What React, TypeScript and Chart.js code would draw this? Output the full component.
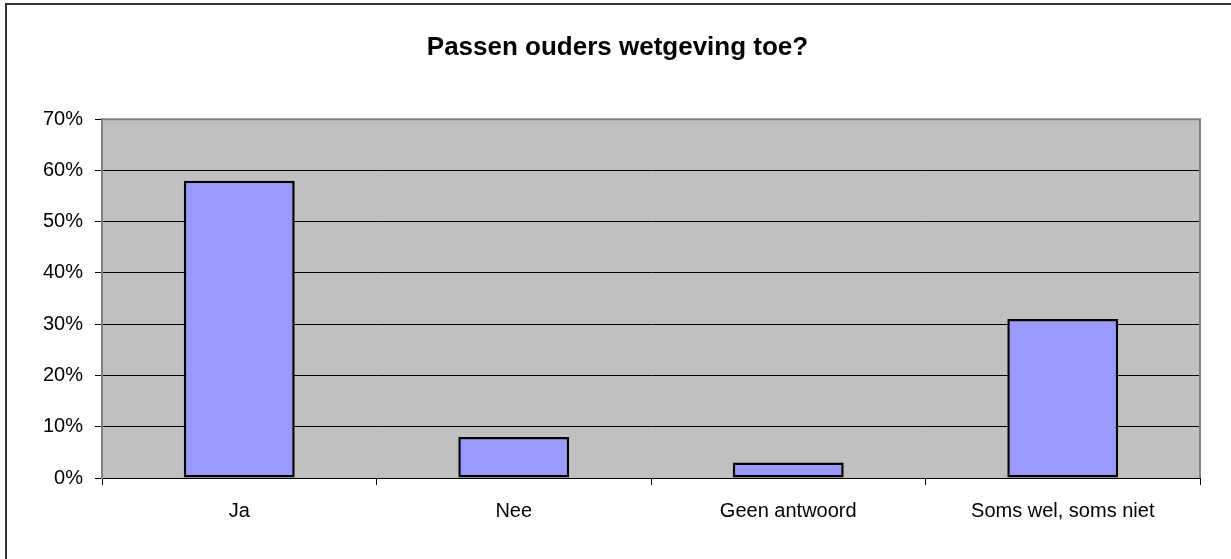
import React, { useEffect, useRef } from "react";
import { Chart, registerables } from "chart.js";

Chart.register(...registerables);

const categories = ["Ja", "Nee", "Geen antwoord", "Soms wel, soms niet"];
const values = [58, 8, 3, 31];
const yTicks = [0, 10, 20, 30, 40, 50, 60, 70];
const titleText = "Passen ouders wetgeving toe?";

const FONT = "'Liberation Sans', Arial, sans-serif";

const framePlugin = {
  id: "frame",
  beforeDraw(chart: any) {
    const { ctx, chartArea } = chart;
    ctx.save();
    // outer frame (top & left visible)
    ctx.fillStyle = "#333333";
    ctx.fillRect(5, 3, 2, chart.height);
    ctx.fillRect(5, 3, chart.width, 2);
    // plot background
    ctx.fillStyle = "#C0C0C0";
    ctx.fillRect(chartArea.left, chartArea.top, chartArea.right - chartArea.left, chartArea.bottom - chartArea.top);
    ctx.restore();
  },
  beforeDatasetsDraw(chart: any) {
    const { ctx, chartArea } = chart;
    ctx.save();
    ctx.strokeStyle = "#808080";
    ctx.lineWidth = 2;
    ctx.beginPath();
    ctx.moveTo(chartArea.left, chartArea.top);
    ctx.lineTo(chartArea.right, chartArea.top);
    ctx.lineTo(chartArea.right, chartArea.bottom);
    ctx.stroke();
    ctx.restore();
  },
};

export default function App() {
  const ref = useRef<HTMLCanvasElement | null>(null);

  useEffect(() => {
    if (!ref.current) return;
    const chart = new Chart(ref.current, {
      type: "bar",
      data: {
        labels: categories,
        datasets: [
          {
            data: values,
            backgroundColor: "#9999FF",
            borderColor: "#000000",
            borderWidth: 2.5,
            borderSkipped: false,
            categoryPercentage: 1,
            barPercentage: 0.404,
          },
        ],
      },
      options: {
        responsive: false,
        animation: false,
        layout: { padding: { left: 4, right: 0, top: 0, bottom: 0 } },
        plugins: {
          legend: { display: false },
          tooltip: { enabled: false },
          title: {
            display: true,
            text: titleText,
            color: "#000000",
            font: { family: FONT, size: 26, weight: "bold", lineHeight: 1.2 },
            padding: { top: 32, bottom: 56 },
          },
        },
        scales: {
          x: {
            grid: {
              display: true,
              drawOnChartArea: false,
              drawTicks: true,
              tickLength: 7,
              color: "#000000",
              offset: true,
            },
            border: { display: true, color: "#000000", width: 1 },
            ticks: {
              color: "#000000",
              font: { family: FONT, size: 20 },
              padding: 14,
              maxRotation: 0,
              autoSkip: false,
            },
            afterFit(scale: any) {
              scale.height = 81;
            },
          },
          y: {
            min: 0,
            max: 70,
            afterBuildTicks(scale: any) {
              scale.ticks = yTicks.map((v) => ({ value: v }));
            },
            grid: {
              color: "#000000",
              lineWidth: 1,
              drawTicks: true,
              tickLength: 7,
            },
            border: { display: true, color: "#808080", width: 2 },
            ticks: {
              color: "#000000",
              font: { family: FONT, size: 20 },
              padding: 12,
              callback: (v: any) => v + "%",
            },
            afterFit(scale: any) {
              scale.width = 98;
            },
          },
          yRight: {
            type: "linear",
            position: "right",
            min: 0,
            max: 70,
            grid: { display: false, drawOnChartArea: false, drawTicks: false },
            border: { display: false },
            ticks: { display: false },
            afterFit(scale: any) {
              scale.width = 31;
            },
          },
        },
      },
      plugins: [framePlugin],
    });
    return () => chart.destroy();
  }, []);

  return (
    <div style={{ position: "fixed", left: 0, top: 0, width: 1231, height: 559, background: "#ffffff" }}>
      <canvas ref={ref} width={1231} height={559} style={{ display: "block" }} />
    </div>
  );
}
